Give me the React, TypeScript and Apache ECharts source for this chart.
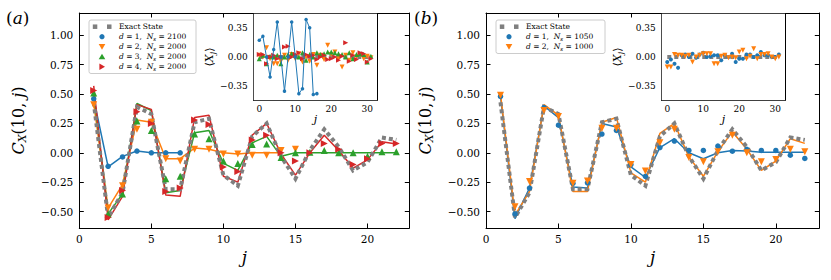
import React, { useEffect, useRef } from "react";
import * as echarts from "echarts";

// ---------- data ----------
const jMain = [1, 2, 3, 4, 5, 6, 7, 8, 9, 10, 11, 12, 13, 14, 15, 16, 17, 18, 19, 20, 21, 22];
const jInset = [0, 1, 2, 3, 4, 5, 6, 7, 8, 9, 10, 11, 12, 13, 14, 15, 16, 17, 18, 19, 20, 21, 22, 23, 24, 25, 26, 27, 28, 29, 30, 31];

const mainXTicks = [0, 5, 10, 15, 20];
const mainYTicks = [-0.5, -0.25, 0, 0.25, 0.5, 0.75, 1.0];
const insetXTicks = [0, 10, 20, 30];
const insetYTicks = [-0.35, 0, 0.35];

const exactState = [0.43, -0.55, -0.34, 0.39, 0.33, -0.31, -0.31, 0.26, 0.29, -0.19, -0.28, 0.14, 0.25, -0.03, -0.22, 0.02, 0.2, 0.05, -0.15, -0.08, 0.13, 0.11];

// panel (a)
const aD1Line = [0.46, -0.12, -0.03, 0.015, 0.0, 0.0, 0.0];
const aD1Pts = [0.46, -0.115, -0.035, 0.015, 0.0, 0.0, 0.0];
const aD2Line = [0.42, -0.47, -0.27, 0.28, 0.26, -0.05, -0.05, 0.04, 0.03, 0.0, -0.01, 0.0, 0.0, 0.0];
const aD2Pts = [0.41, -0.47, -0.28, 0.2, 0.26, -0.05, -0.07, 0.03, 0.03, -0.01, -0.01, -0.02, -0.02, 0.02, 0.03];
const aD3Line = [0.51, -0.52, -0.35, 0.42, 0.36, -0.34, -0.32, 0.17, 0.19, -0.09, -0.15, 0.085, 0.14, -0.03, 0, 0, 0, 0, 0, 0, 0, 0];
const aD3Pts = [0.51, -0.52, -0.35, 0.27, 0.19, -0.22, -0.2, 0.16, 0.12, -0.07, -0.09, 0.07, 0.075, -0.04, 0.0, 0.005, 0.02, 0.0, 0.0, -0.03, 0.01, 0.01];
const aD4Line = [0.57, -0.57, -0.37, 0.41, 0.37, -0.36, -0.37, 0.3, 0.32, -0.2, -0.25, 0.15, 0.25, -0.01, -0.19, 0.0, 0.15, 0.02, -0.13, -0.06, 0.095, 0.075];
const aD4Pts = [0.53, -0.55, -0.32, 0.35, 0.25, -0.33, -0.3, 0.28, 0.24, -0.12, -0.16, 0.11, 0.15, 0.0, -0.07, 0.0, 0.08, 0.03, -0.1, -0.05, 0.08, 0.08];

// panel (b)
const bD1Line = [0.48, -0.56, -0.3, 0.4, 0.3, -0.29, -0.3, 0.25, 0.22, -0.12, -0.21, 0.045, 0.12, 0.0, -0.05, 0.0, 0.02, 0.015, 0.005, 0.005, 0.005, 0.005];
const bD1Pts = [0.48, -0.52, -0.3, 0.385, 0.235, -0.26, -0.255, 0.16, 0.19, -0.1, -0.2, 0.045, 0.1, 0.02, 0.02, 0.057, 0.014, 0.03, 0.02, 0.02, -0.02, -0.048];
const bD2Line = [0.5, -0.53, -0.33, 0.41, 0.32, -0.33, -0.33, 0.26, 0.3, -0.17, -0.25, 0.165, 0.25, -0.035, -0.2, 0.01, 0.18, 0.03, -0.15, -0.07, 0.12, 0.08];
const bD2Pts = [0.49, -0.46, -0.245, 0.36, 0.31, -0.26, -0.24, 0.21, 0.21, -0.1, -0.155, 0.085, 0.2, -0.04, -0.077, 0.01, 0.15, 0.0, -0.077, -0.057, 0.03, 0.01];

// insets <X_j>
const insetExact = [0, 0, 0, 0, 0, 0, 0, 0, 0, 0, 0, 0, 0, 0, 0, 0, 0, 0, 0, 0, 0, 0, 0, 0, 0, 0, 0, 0, 0, 0, 0, 0];
const insetABlue = [0.2, 0.25, 0.0, -0.24, 0.09, 0.42, 0.0, -0.41, 0.0, 0.42, 0.0, -0.44, -0.38, 0.45, 0.35, -0.45, -0.44];
const insetAOrange = [0.02, 0.0, 0.11, -0.02, -0.08, -0.08, -0.05, 0.02, -0.04, 0.03, -0.02, 0.04, -0.06, 0.0, -0.05, 0.03, -0.1, 0.02, -0.03, 0.14, 0.03, 0.06, -0.02, -0.12, 0.02, -0.04, 0.05, 0.0, 0.03, -0.02, 0.01, -0.01];
const insetAGreen = [-0.02, 0.02, -0.08, 0.01, 0.0, 0.02, -0.08, 0.0, 0.03, 0.04, 0.02, 0.0, 0.05, -0.04, 0.03, 0.0, 0.05, 0.03, 0.04, 0.06, 0.06, 0.05, 0.04, 0.03, 0.0, 0.05, -0.02, 0.03, 0.04, 0.03, -0.06, 0.01];
const insetARed = [0.03, 0.03, -0.08, 0.0, 0.02, -0.02, 0.0, 0.12, 0.13, 0.0, 0.03, 0.05, -0.02, 0.03, 0.01, 0.02, -0.03, 0.0, 0.02, -0.03, -0.02, 0.0, -0.04, 0.01, 0.17, -0.05, 0.02, -0.03, 0.05, 0.04, -0.06, -0.02];
const insetBBlue = [-0.06, -0.03, -0.08, -0.13, 0.02, 0.03, 0.0, 0.04, -0.01, 0.03, 0.05, 0.0, 0.01, 0.02, 0.02, -0.04, 0.02, 0.0, 0.04, -0.06, -0.02, -0.02, 0.03, 0.03, 0.0, 0.02, 0.06, 0.02, 0.02, 0.0, 0.0, 0.03];
const insetBOrange = [-0.12, -0.12, 0.03, 0.02, 0.02, 0.01, 0.02, -0.06, 0.0, 0.02, 0.04, 0.04, 0.04, -0.08, -0.08, 0.01, 0.02, -0.01, 0.0, -0.01, 0.06, 0.08, -0.02, 0.01, 0.1, -0.02, 0.03, 0.03, 0.04, 0.0, -0.02, 0.0];

const legendA = ["Exact State", "d = 1, N = 2100", "d = 2, N = 2000", "d = 3, N = 2000", "d = 4, N = 2000"];
const legendB = ["Exact State", "d = 1, N = 1050", "d = 2, N = 1000"];

// ---------- style ----------
const F = "'DejaVu Serif', 'Liberation Serif', serif";
const BLUE = "#1f77b4";
const ORANGE = "#ff7f0e";
const GREEN = "#2ca02c";
const RED = "#d62728";
const GRAY = "#7f7f7f";

const fmt = (v: number) => (v < 0 ? "\u2212" : "") + Math.abs(v).toFixed(2);

function axesFor(gridIndex: number, xr: [number, number], yr: [number, number], inset: boolean) {
  const fs = inset ? 9 : 10.5;
  const tickLen = inset ? 4 : 4.5;
  const xt = inset ? insetXTicks : mainXTicks;
  const yt = inset ? insetYTicks : mainYTicks;
  const line = { show: true, onZero: false, lineStyle: { color: "#000", width: 1 } };
  const tick = (vals: number[]) => ({ show: true, inside: true, length: tickLen, customValues: vals, lineStyle: { color: "#000", width: 1 } });
  const xs = [
    {
      gridIndex, type: "value", position: "bottom", min: xr[0], max: xr[1],
      axisLine: line, axisTick: tick(xt), splitLine: { show: false },
      axisLabel: { customValues: xt, color: "#000", fontFamily: F, fontSize: fs, margin: inset ? 4 : 5, formatter: (v: number) => String(v) },
      name: "j", nameLocation: "middle", nameGap: inset ? 12 : 19,
      nameTextStyle: { fontFamily: F, fontStyle: "italic", fontSize: inset ? 11 : 17, color: "#000" },
    },
    {
      gridIndex, type: "value", position: "top", min: xr[0], max: xr[1],
      axisLine: line, axisTick: tick(xt), splitLine: { show: false }, axisLabel: { show: false },
    },
  ];
  const yName = inset ? "\u27e8{i|X}{s|j}\u27e9" : "{i|C}{s|X}(10, {i|j})";
  const ys = [
    {
      gridIndex, type: "value", position: "left", min: yr[0], max: yr[1],
      axisLine: line, axisTick: tick(yt), splitLine: { show: false },
      axisLabel: { customValues: yt, color: "#000", fontFamily: F, fontSize: fs, margin: 6, formatter: fmt },
      name: yName, nameLocation: "middle", nameRotate: 90, nameGap: inset ? 33 : 51,
      nameTextStyle: {
        fontFamily: F, fontSize: inset ? 11 : 16, color: "#000",
        rich: {
          i: { fontFamily: F, fontStyle: "italic", fontSize: inset ? 11 : 16, color: "#000" },
          s: { fontFamily: F, fontStyle: "italic", fontSize: inset ? 8 : 11, color: "#000", padding: inset ? [5, 0, 0, 0] : [8, 0, 0, 0] },
        },
      },
    },
    {
      gridIndex, type: "value", position: "right", min: yr[0], max: yr[1],
      axisLine: line, axisTick: tick(yt), splitLine: { show: false }, axisLabel: { show: false },
    },
  ];
  return { xs, ys };
}

const pts = (xsv: number[], vals: number[]) => vals.map((v, i) => [xsv[i], v]);

function lineS(ax: number, vals: number[], color: string, z: number, xsv = jMain, width = 1.5) {
  return {
    type: "line", xAxisIndex: ax, yAxisIndex: ax, data: pts(xsv, vals),
    symbol: "none", showSymbol: false, lineStyle: { color, width }, z, silent: true,
  };
}
function markS(ax: number, vals: number[], color: string, symbol: string, rot: number, size: number, z: number, xsv = jMain) {
  return {
    type: "scatter", xAxisIndex: ax, yAxisIndex: ax, data: pts(xsv, vals),
    symbol, symbolRotate: rot, symbolSize: size, itemStyle: { color, opacity: 1 }, z, silent: true,
  };
}
function exactS(ax: number, vals: number[], xsv = jMain, z = 3, width = 4) {
  return {
    type: "line", xAxisIndex: ax, yAxisIndex: ax, data: pts(xsv, vals), symbol: "none", showSymbol: false,
    lineStyle: { color: GRAY, width, type: [4, 3], cap: "butt", join: "miter" }, z, silent: true,
  };
}

type Kind = "exact" | "circle" | "tdown" | "tup" | "tright";
function legend(x0: number, y0: number, w: number, h: number, texts: string[], kinds: Kind[], colors: string[]) {
  const els: any[] = [
    { type: "rect", z: 100, shape: { x: x0, y: y0, width: w, height: h, r: 2 }, style: { fill: "rgba(255,255,255,0.85)", stroke: "#cccccc", lineWidth: 1 } },
  ];
  texts.forEach((t, i) => {
    const cy = y0 + 6.7 + 10 * i;
    const cx = x0 + 13;
    const k = kinds[i];
    const c = colors[i];
    if (k === "exact") {
      els.push({ type: "rect", z: 101, shape: { x: x0 + 3.8, y: cy - 2.25, width: 4.5, height: 4.5 }, style: { fill: GRAY } });
      els.push({ type: "rect", z: 101, shape: { x: x0 + 18, y: cy - 2.25, width: 4.5, height: 4.5 }, style: { fill: GRAY } });
    } else if (k === "circle") {
      els.push({ type: "circle", z: 101, shape: { cx, cy, r: 2.6 }, style: { fill: c } });
    } else if (k === "tdown") {
      els.push({ type: "polygon", z: 101, shape: { points: [[cx - 3.3, cy - 2.6], [cx + 3.3, cy - 2.6], [cx, cy + 3]] }, style: { fill: c } });
    } else if (k === "tup") {
      els.push({ type: "polygon", z: 101, shape: { points: [[cx - 3.3, cy + 2.6], [cx + 3.3, cy + 2.6], [cx, cy - 3]] }, style: { fill: c } });
    } else {
      els.push({ type: "polygon", z: 101, shape: { points: [[cx - 2.6, cy - 3.3], [cx - 2.6, cy + 3.3], [cx + 3, cy]] }, style: { fill: c } });
    }
    let txt = t;
    if (t.startsWith("d")) {
      const parts = t.split(", N = ");
      txt = "{i|d}" + parts[0].slice(1) + ",  {i|N}{s|s} = " + parts[1];
    }
    els.push({
      type: "text", z: 101, x: x0 + 30, y: cy,
      style: {
        text: txt, fill: "#000", fontFamily: F, fontSize: 7.5, verticalAlign: "middle", align: "left",
        rich: {
          i: { fontFamily: F, fontStyle: "italic", fontSize: 7.5, fill: "#000" },
          s: { fontFamily: F, fontStyle: "italic", fontSize: 5.5, fill: "#000", padding: [4, 0, 0, 0] },
        },
      },
    });
  });
  return els;
}

function buildOption() {
  const yMain: [number, number] = [-0.64, 1.19];
  const yIns: [number, number] = [-0.52, 0.52];
  const g0 = axesFor(0, [0, 22.9], yMain, false);
  const g1 = axesFor(1, [-1.55, 32.7], yIns, true);
  const g2 = axesFor(2, [0, 23.0], yMain, false);
  const g3 = axesFor(3, [-1.55, 32.7], yIns, true);
  const A = 0, AI = 2, B = 4, BI = 6;
  const series: any[] = [
    // panel (a) main
    lineS(A, aD1Line, BLUE, 2), lineS(A, aD2Line, ORANGE, 2), lineS(A, aD3Line, GREEN, 2), lineS(A, aD4Line, RED, 2),
    exactS(A, exactState),
    markS(A, aD1Pts, BLUE, "circle", 0, 5.5, 4), markS(A, aD2Pts, ORANGE, "triangle", 180, 7, 4),
    markS(A, aD3Pts, GREEN, "triangle", 0, 7, 4), markS(A, aD4Pts, RED, "triangle", -90, 7, 4),
    // inset (a)
    exactS(AI, insetExact, jInset, 2, 4),
    markS(AI, insetAOrange, ORANGE, "triangle", 180, 5, 3, jInset),
    markS(AI, insetAGreen, GREEN, "triangle", 0, 5, 3, jInset),
    markS(AI, insetARed, RED, "triangle", -90, 5, 3, jInset),
    lineS(AI, insetABlue, BLUE, 4, jInset, 1),
    markS(AI, insetABlue, BLUE, "circle", 0, 3.5, 4, jInset),
    // panel (b) main
    lineS(B, bD1Line, BLUE, 2), lineS(B, bD2Line, ORANGE, 2),
    exactS(B, exactState),
    markS(B, bD1Pts, BLUE, "circle", 0, 5.5, 4), markS(B, bD2Pts, ORANGE, "triangle", 180, 7, 4),
    // inset (b)
    exactS(BI, insetExact, jInset, 2, 4),
    markS(BI, insetBBlue, BLUE, "circle", 0, 4, 3, jInset),
    markS(BI, insetBOrange, ORANGE, "triangle", 180, 5, 3, jInset),
  ];
  const panelLabel = (x: number, letter: string) => ({
    type: "text", z: 100, x, y: 18,
    style: {
      text: "({i|" + letter + "})", fill: "#000", fontFamily: F, fontSize: 17, verticalAlign: "middle",
      rich: { i: { fontFamily: F, fontStyle: "italic", fontSize: 17, fill: "#000" } },
    },
  });
  return {
    animation: false,
    backgroundColor: "#fff",
    grid: [
      { left: 79.3, top: 13, width: 330, height: 215 },
      { left: 253.7, top: 13.7, width: 123.3, height: 86.6, show: true, backgroundColor: "#fff", borderWidth: 0, z: 1 },
      { left: 486, top: 13, width: 333.3, height: 215 },
      { left: 661.7, top: 13.7, width: 123.3, height: 86.6, show: true, backgroundColor: "#fff", borderWidth: 0, z: 1 },
    ],
    xAxis: [...g0.xs, ...g1.xs, ...g2.xs, ...g3.xs],
    yAxis: [...g0.ys, ...g1.ys, ...g2.ys, ...g3.ys],
    series,
    graphic: [
      panelLabel(6, "a"),
      panelLabel(414, "b"),
      ...legend(89, 20, 107, 53.5, legendA, ["exact", "circle", "tdown", "tup", "tright"], [GRAY, BLUE, ORANGE, GREEN, RED]),
      ...legend(496, 20, 109, 33.5, legendB, ["exact", "circle", "tdown"], [GRAY, BLUE, ORANGE]),
    ],
  };
}

export default function App() {
  const ref = useRef<HTMLDivElement>(null);
  useEffect(() => {
    const chart = echarts.init(ref.current as HTMLDivElement, null, { renderer: "svg" });
    chart.setOption(buildOption() as any);
    return () => chart.dispose();
  }, []);
  return <div ref={ref} style={{ position: "absolute", left: 0, top: 0, width: 831, height: 280, background: "#fff" }} />;
}
